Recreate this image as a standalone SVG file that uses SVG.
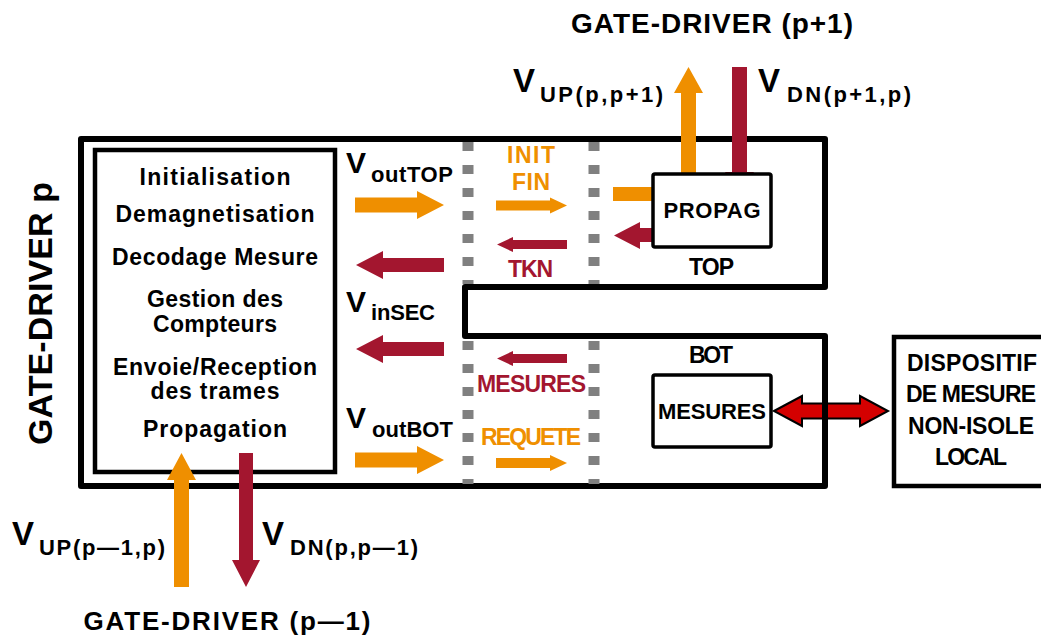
<svg xmlns="http://www.w3.org/2000/svg" width="1041" height="640" viewBox="0 0 1041 640">
<style>
text{font-family:"Liberation Sans",Arial,sans-serif;font-weight:bold;fill:#000}
.t23{font-size:23px}
.mid{text-anchor:middle}
.or{fill:#EF8F00}
.cr{fill:#A3162F}
.vb{font-size:33px}
.vm{font-size:30px}
.vs{font-size:22px}
.box{fill:#fff;stroke:#000}
.dots{stroke:#808080;stroke-width:11;stroke-dasharray:9 14;fill:none}
</style>
<rect width="1041" height="640" fill="#fff"/>

<g id="connectors">
  <polygon id="arrow-mesures-dispositif" points="774,411 802,396 802,403.5 860,403.5 860,396 888,411 860,426 860,418.5 802,418.5 802,426" fill="#D40000" stroke="#000" stroke-width="2" stroke-linejoin="miter"/>
</g>

<g id="gate-driver-p">
  <path d="M81,139 H825 V287 H465 V336 H825 V486 H81 Z" fill="none" stroke="#000" stroke-width="6" stroke-linejoin="round"/>
  <text class="mid" font-size="34" transform="translate(52,313.5) rotate(-90)" textLength="263" lengthAdjust="spacing">GATE-DRIVER p</text>
</g>

<g id="separators">
  <line class="dots" x1="468" y1="142" x2="468" y2="284"/>
  <line class="dots" x1="468" y1="341" x2="468" y2="484"/>
  <line class="dots" x1="594" y1="142" x2="594" y2="284"/>
  <line class="dots" x1="594" y1="341" x2="594" y2="484"/>
</g>

<g id="controller">
  <rect class="box" x="95" y="150" width="240" height="322" stroke-width="4.5"/>
  <text class="t23 mid" x="215" y="185" textLength="151" lengthAdjust="spacing">Initialisation</text>
  <text class="t23 mid" x="215" y="222" textLength="199" lengthAdjust="spacing">Demagnetisation</text>
  <text class="t23 mid" x="215" y="265" textLength="206" lengthAdjust="spacing">Decodage Mesure</text>
  <text class="t23 mid" x="215" y="307" textLength="136" lengthAdjust="spacing">Gestion des</text>
  <text class="t23 mid" x="215" y="332" textLength="124" lengthAdjust="spacing">Compteurs</text>
  <text class="t23 mid" x="215" y="375" textLength="204" lengthAdjust="spacing">Envoie/Reception</text>
  <text class="t23 mid" x="215" y="399" textLength="129" lengthAdjust="spacing">des trames</text>
  <text class="t23 mid" x="215" y="437" textLength="144" lengthAdjust="spacing">Propagation</text>
</g>

<g id="connectors-signals">
  <polygon class="or" points="355,197.5 417,197.5 417,191 444,205 417,219 417,212.5 355,212.5"/>
  <polygon class="cr" points="444,258 383,258 383,251 356,265 383,279 383,272 444,272"/>
  <polygon class="cr" points="444,342 383,342 383,335 356,349 383,363 383,356 444,356"/>
  <polygon class="or" points="355,452.5 417,452.5 417,446 444,460 417,474 417,467.5 355,467.5"/>
  <polygon class="or" points="496,200.5 550,200.5 550,197.5 567,205.5 550,213.5 550,210.5 496,210.5"/>
  <polygon class="cr" points="567,240 513,240 513,237 497,244.5 513,252 513,249 567,249"/>
  <polygon class="cr" points="567,354 513,354 513,351 497,358.5 513,366 513,363 567,363"/>
  <polygon class="or" points="496,458 550,458 550,455 567,463 550,471 550,468 496,468"/>
  <polygon class="or" points="613,187 665,187 665,201 613,201"/>
  <polygon class="cr" points="665,228 640,228 640,222 614,235.5 640,249 640,242 665,242"/>
  <polygon class="or" points="681,185 681,93 674,93 688.5,67 703,93 696,93 696,185"/>
  <polygon class="cr" points="732,67 747,67 747,172 754,172 739.5,198 725,172 732,172"/>
  <polygon class="or" points="174,587 174,480 167,480 181.5,453 196,480 189,480 189,587"/>
  <polygon class="cr" points="239,453 253,453 253,560 260,560 246,587 232,560 239,560"/>
</g>

<g id="propag">
  <rect class="box" x="653" y="174" width="118" height="73" rx="2" stroke-width="3.5"/>
  <text class="mid" font-size="22" x="712" y="218" textLength="97" lengthAdjust="spacing">PROPAG</text>
</g>
<text class="t23 mid" x="711.5" y="275" textLength="45" lengthAdjust="spacing">TOP</text>
<text class="t23 mid" x="711" y="363" textLength="44" lengthAdjust="spacing">BOT</text>

<g id="mesures">
  <rect class="box" x="653" y="375" width="118" height="72" rx="2" stroke-width="3.5"/>
  <text class="mid" font-size="22" x="712" y="419" textLength="108" lengthAdjust="spacing">MESURES</text>
</g>

<g id="dispositif">
  <rect class="box" x="894" y="337" width="160" height="149" stroke-width="4.5"/>
  <text class="t23 mid" x="972" y="371" textLength="130" lengthAdjust="spacing">DISPOSITIF</text>
  <text class="t23 mid" x="971" y="402" textLength="130" lengthAdjust="spacing">DE MESURE</text>
  <text class="t23 mid" x="971" y="434" textLength="126" lengthAdjust="spacing">NON-ISOLE</text>
  <text class="t23 mid" x="971" y="465" textLength="72" lengthAdjust="spacing">LOCAL</text>
</g>

<g id="channel-labels">
  <text class="t23 mid or" font-size="22" x="531" y="163" textLength="48" lengthAdjust="spacing">INIT</text>
  <text class="t23 mid or" x="531" y="190" textLength="38" lengthAdjust="spacing">FIN</text>
  <text class="t23 mid cr" x="530.5" y="277" textLength="45" lengthAdjust="spacing">TKN</text>
  <text class="t23 mid cr" x="531.5" y="392" textLength="109" lengthAdjust="spacing">MESURES</text>
  <text class="t23 mid or" x="531" y="445" textLength="100" lengthAdjust="spacing">REQUETE</text>
</g>

<g id="voltage-labels">
  <text class="vm" x="346" y="173">V<tspan class="vs" x="371" y="182" textLength="82" lengthAdjust="spacing">outTOP</tspan></text>
  <text class="vm" x="346" y="312">V<tspan class="vs" x="371" y="320" textLength="64" lengthAdjust="spacing">inSEC</tspan></text>
  <text class="vm" x="346" y="428">V<tspan class="vs" x="372" y="437" textLength="81" lengthAdjust="spacing">outBOT</tspan></text>
  <text class="vb" x="513" y="92">V<tspan class="vs" x="540" y="102" textLength="123" lengthAdjust="spacing">UP(p,p+1)</tspan></text>
  <text class="vb" x="758" y="92">V<tspan class="vs" x="787" y="102" textLength="124" lengthAdjust="spacing">DN(p+1,p)</tspan></text>
  <text class="vb" x="12" y="545">V<tspan class="vs" x="39" y="555" textLength="126" lengthAdjust="spacing">UP(p—1,p)</tspan></text>
  <text class="vb" x="262" y="545">V<tspan class="vs" x="290" y="555" textLength="128" lengthAdjust="spacing">DN(p,p—1)</tspan></text>
</g>

<g id="gate-driver-next">
  <text class="mid" font-size="28" x="712" y="33" textLength="282" lengthAdjust="spacing">GATE-DRIVER (p+1)</text>
</g>
<g id="gate-driver-prev">
  <text class="mid" font-size="26" x="227" y="630" textLength="287" lengthAdjust="spacing">GATE-DRIVER (p—1)</text>
</g>
</svg>
